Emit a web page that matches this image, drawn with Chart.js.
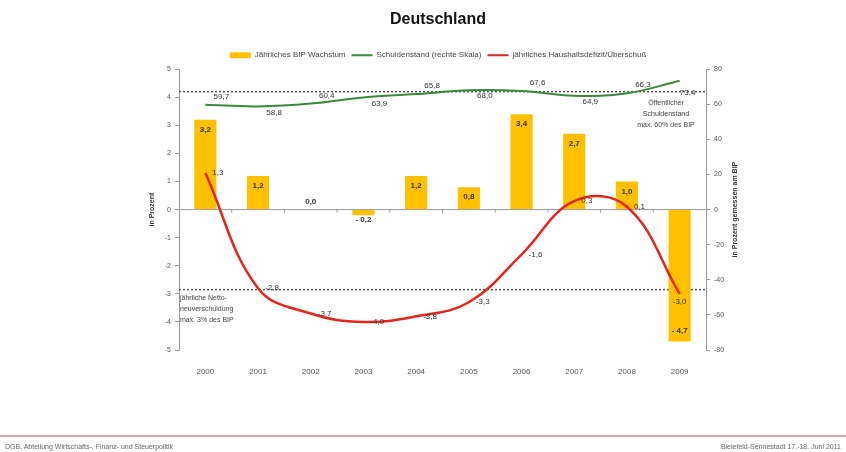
<!DOCTYPE html>
<html>
<head>
<meta charset="utf-8">
<script src="https://cdn.jsdelivr.net/npm/chart.js@4"></script>
<style>
body { margin: 0; background: #fff; }
#wrap { position: relative; width: 846px; height: 452px; overflow: hidden; }
#rule { position: absolute; left: 0; top: 435px; width: 846px; height: 2px; background: #cfa9a9; }
.foot { position: absolute; top: 443px; font: 7px 'Liberation Sans Narrow', 'Liberation Sans', Arial, sans-serif; color: #666; }
#footL { left: 5px; }
#footR { right: 5px; }
</style>
</head>
<body>
<div id="wrap">
<canvas id="chart" width="846" height="452"></canvas>
<div id="rule"></div>
<div class="foot" id="footL">DGB, Abteilung Wirtschafts-, Finanz- und Steuerpolitik</div>
<div class="foot" id="footR">Bielefeld-Sennestadt 17.-18. Juni 2011</div>
</div>
<script>
let years = ['2000', '2001', '2002', '2003', '2004', '2005', '2006', '2007', '2008', '2009'];
let bipWachstum = [3.2, 1.2, 0.0, -0.2, 1.2, 0.8, 3.4, 2.7, 1.0, -4.7];
let schuldenstand = [59.7, 58.8, 60.4, 63.9, 65.8, 68.0, 67.6, 64.9, 66.3, 73.4];
let haushaltssaldo = [1.3, -2.8, -3.7, -4.0, -3.8, -3.3, -1.6, 0.3, 0.1, -3.0];
// dotted reference lines, read on the left scale
let grenzLinien = [4.2, -2.85];

Chart.defaults.font.family = "'Liberation Sans', Arial, sans-serif";
Chart.defaults.color = '#555';

function fmt(v) {
    return v.toFixed(1).replace('.', ',');
}

let extras = {
    id: 'extras',
    beforeDatasetsDraw(chart) {
        let c = chart.ctx, a = chart.chartArea, y = chart.scales.y, x = chart.scales.x;
        c.save();
        // zero line
        let y0 = y.getPixelForValue(0);
        c.strokeStyle = '#999';
        c.lineWidth = 1;
        c.beginPath();
        c.moveTo(a.left, y0);
        c.lineTo(a.right, y0);
        for (let i = 1; i < years.length; i++) {
            let px = (x.getPixelForValue(i - 1) + x.getPixelForValue(i)) / 2;
            c.moveTo(px, y0);
            c.lineTo(px, y0 + 3);
        }
        c.stroke();
        // dotted limits
        c.strokeStyle = '#555';
        c.lineWidth = 1.5;
        c.setLineDash([2, 2]);
        for (let g of grenzLinien) {
            let py = y.getPixelForValue(g);
            c.beginPath();
            c.moveTo(a.left, py);
            c.lineTo(a.right, py);
            c.stroke();
        }
        c.restore();
    },
    afterDatasetsDraw(chart) {
        let c = chart.ctx, a = chart.chartArea, y = chart.scales.y;
        c.save();
        c.fillStyle = '#333';
        c.textBaseline = 'middle';
        c.textAlign = 'center';
        // bar labels
        c.font = "bold 8px 'Liberation Sans', Arial";
        let y0 = y.getPixelForValue(0);
        chart.getDatasetMeta(0).data.forEach((el, i) => {
            let v = bipWachstum[i];
            let txt = v < 0 ? '- ' + fmt(-v) : fmt(v);
            let py;
            if (v > 0.5) py = el.y + 10;
            else if (v < -0.5) py = el.y - 11;
            else if (v < 0) py = el.y + 5;
            else py = y0 - 8;
            c.fillText(txt, el.x, py);
        });
        // green labels
        c.font = "8px 'Liberation Sans', Arial";
        chart.getDatasetMeta(1).data.forEach((el, i) => {
            let last = i === schuldenstand.length - 1;
            let px = last ? el.x + 8 : el.x + 16;
            let py = last ? el.y + 12 : (i % 2 === 0 ? el.y - 8 : el.y + 6);
            c.fillText(fmt(schuldenstand[i]), px, py);
        });
        // red labels
        chart.getDatasetMeta(2).data.forEach((el, i) => {
            let last = i === haushaltssaldo.length - 1;
            if (last) {
                c.textAlign = 'center';
                c.fillText(fmt(haushaltssaldo[i]), el.x, el.y + 8);
            } else {
                c.textAlign = 'left';
                c.fillText(fmt(haushaltssaldo[i]), el.x + 7, el.y);
            }
        });
        // notes
        c.fillStyle = '#444';
        c.font = "7px 'Liberation Sans', Arial";
        c.textAlign = 'center';
        let nx = a.right - 40;
        let ny = chart.scales.y.getPixelForValue(grenzLinien[0]);
        c.fillText('Öffentlicher', nx, ny + 11);
        c.fillText('Schuldenstand', nx, ny + 22);
        c.fillText('max. 60% des BIP', nx, ny + 33);
        c.textAlign = 'left';
        let ly = chart.scales.y.getPixelForValue(grenzLinien[1]);
        c.fillText('jährliche Netto-', a.left + 1, ly + 8);
        c.fillText('neuverschuldung', a.left + 1, ly + 19);
        c.fillText('max. 3% des BIP', a.left + 1, ly + 30);
        // axis titles
        c.fillStyle = '#333';
        c.font = "bold 7px 'Liberation Sans', Arial";
        c.textAlign = 'center';
        let cy = (a.top + a.bottom) / 2;
        c.translate(152, cy);
        c.rotate(-Math.PI / 2);
        c.fillText('in Prozent', 0, 0);
        c.rotate(Math.PI / 2);
        c.translate(735 - 152, 0);
        c.rotate(-Math.PI / 2);
        c.fillText('in Prozent gemessen am BIP', 0, 0);
        c.restore();
    }
};

let ctx = document.getElementById('chart');
let chart = new Chart(ctx, {
    type: 'bar',
    data: {
        labels: years,
        datasets: [{
            type: 'bar',
            label: 'Jährliches BIP Wachstum',
            data: bipWachstum,
            backgroundColor: '#ffc000',
            borderWidth: 0,
            barPercentage: 0.42,
            categoryPercentage: 1,
            yAxisID: 'y',
            order: 3
        }, {
            type: 'line',
            label: 'Schuldenstand (rechte Skala)',
            data: schuldenstand,
            borderColor: '#3a8a3a',
            backgroundColor: '#3a8a3a',
            borderWidth: 2,
            tension: 0.4,
            pointRadius: 0,
            yAxisID: 'y1',
            order: 1
        }, {
            type: 'line',
            label: 'jährliches Haushaltsdefizit/Überschuß',
            data: haushaltssaldo,
            borderColor: '#e3261c',
            backgroundColor: '#e3261c',
            borderWidth: 2.5,
            tension: 0.4,
            pointRadius: 0,
            yAxisID: 'y',
            order: 2
        }]
    },
    options: {
        responsive: false,
        animation: false,
        layout: { padding: { left: 140, right: 110, top: 0, bottom: 0 } },
        plugins: {
            title: {
                display: true,
                text: 'Deutschland',
                color: '#111',
                font: { size: 16, weight: 'bold' },
                padding: { top: 10, bottom: 16 }
            },
            legend: {
                labels: {
                    usePointStyle: true,
                    pointStyleWidth: 21,
                    boxHeight: 6,
                    padding: 6,
                    color: '#444',
                    font: { size: 8 },
                    generateLabels(chart) {
                        let items = Chart.defaults.plugins.legend.labels.generateLabels(chart);
                        items.sort((p, q) => p.datasetIndex - q.datasetIndex);
                        items.forEach(it => {
                            let ds = chart.data.datasets[it.datasetIndex];
                            if (it.datasetIndex === 0) {
                                it.pointStyle = 'rect';
                                it.fillStyle = ds.backgroundColor;
                                it.strokeStyle = ds.backgroundColor;
                                it.lineWidth = 0;
                            } else {
                                it.pointStyle = 'line';
                                it.strokeStyle = ds.borderColor;
                                it.lineWidth = 2;
                            }
                        });
                        return items;
                    }
                }
            },
            tooltip: { enabled: false }
        },
        scales: {
            x: {
                grid: { display: false },
                border: { display: false },
                ticks: { padding: 9, color: '#555', font: { size: 8 } },
                afterFit(s) { s.height = 102; }
            },
            y: {
                position: 'left',
                min: -5,
                max: 5,
                ticks: { stepSize: 1, font: { size: 7 }, padding: 4 },
                grid: { drawOnChartArea: false, tickColor: '#999', tickLength: 4 },
                border: { color: '#999' },
                afterFit(s) { s.width = 39; }
            },
            y1: {
                position: 'right',
                min: -80,
                max: 80,
                ticks: { stepSize: 20, font: { size: 7 }, padding: 4 },
                grid: { drawOnChartArea: false, tickColor: '#999', tickLength: 4 },
                border: { color: '#999' },
                afterFit(s) { s.width = 30; }
            }
        }
    },
    plugins: [extras]
});
</script>
</body>
</html>
